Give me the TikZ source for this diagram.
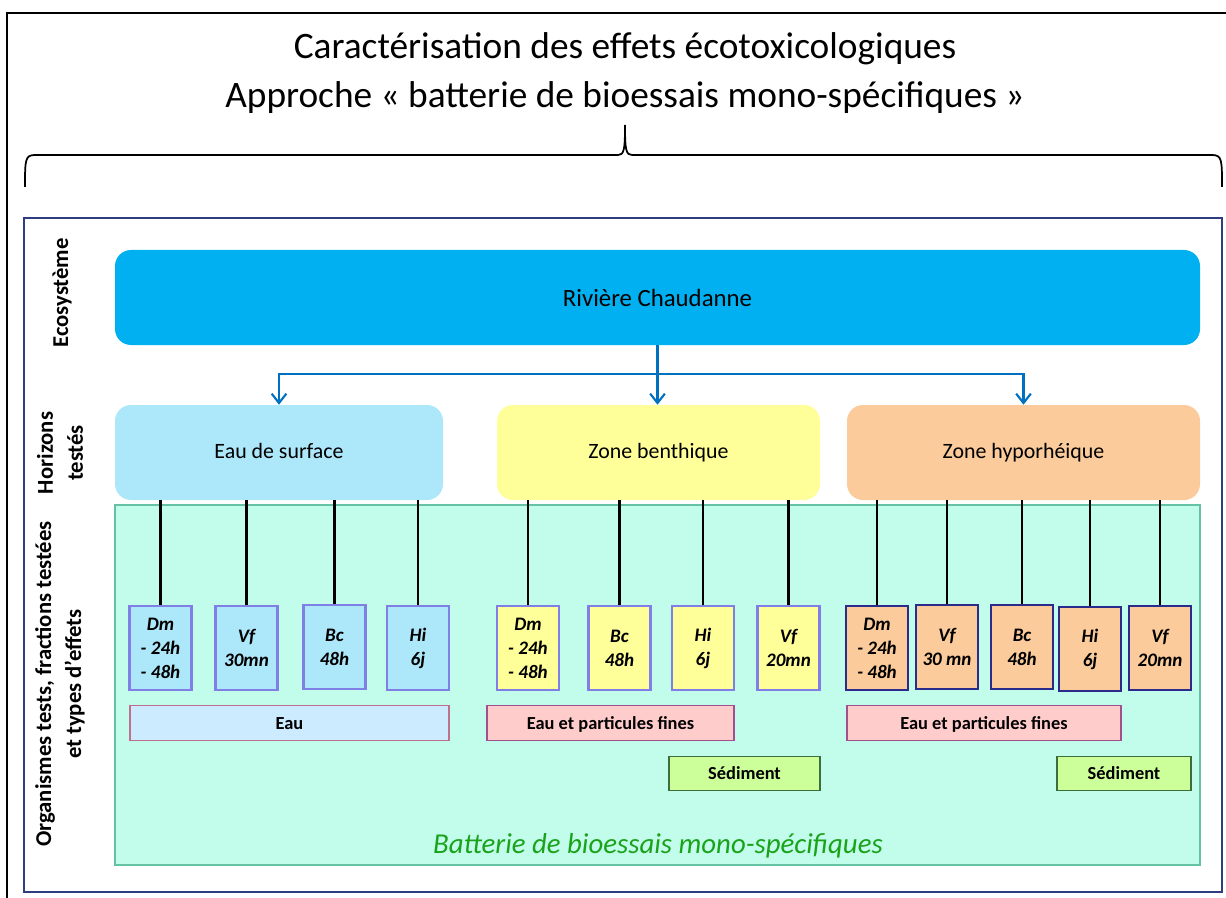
\documentclass[tikz,border=0pt]{standalone}
\usepackage{fontspec}
\setmainfont{Carlito}
\usetikzlibrary{arrows.meta}
\definecolor{ecoc}{HTML}{00B0F0}
\definecolor{bluec}{HTML}{ADE7FA}
\definecolor{yelc}{HTML}{FFFF99}
\definecolor{orac}{HTML}{FBCB9B}
\definecolor{greenbg}{HTML}{C2FDEB}
\definecolor{greenbd}{HTML}{66C2A5}
\definecolor{lilac}{HTML}{7F7FE6}
\definecolor{navy}{HTML}{2B2B8C}
\definecolor{framec}{HTML}{2E3C80}
\definecolor{arrc}{HTML}{0070C0}
\definecolor{eauc}{HTML}{CCEBFF}
\definecolor{eaubd}{HTML}{C0708F}
\definecolor{pinkc}{HTML}{FFCCCC}
\definecolor{pinkbd}{HTML}{A0508F}
\definecolor{sedc}{HTML}{CCFF99}
\definecolor{sedbd}{HTML}{3C6E3C}
\definecolor{battc}{HTML}{1AA31A}
\begin{document}
\begin{tikzpicture}[x=0.75pt,y=-0.75pt,
  horiz/.style={rounded corners=12pt,minimum height=71.25pt,font=\fontsize{16.4}{19}\selectfont,inner sep=0pt,text height=0.95em,text depth=0pt},
  small/.style={line width=1.7pt,minimum width=46.5pt,minimum height=63pt,inner sep=0pt,align=center,
     font=\fontsize{14.3}{18}\selectfont\bfseries\itshape},
  sblue/.style={small,draw=lilac,fill=bluec},
  syel/.style={small,draw=lilac,fill=yelc},
  sora/.style={small,draw=navy,fill=orac,line width=2pt},
  bar/.style={minimum height=26pt,inner sep=0pt,font=\fontsize{13.8}{16}\selectfont\bfseries,line width=0.8pt,text height=0.95em,text depth=0pt},
  conn/.style={line width=1.8pt,black},
  arr/.style={line width=1.9pt,arrc,-{Straight Barb[length=7pt,width=11pt,line width=1.6pt]}},
  side/.style={rotate=90,align=center,font=\fontsize{17}{22.5}\selectfont\bfseries}]
\useasboundingbox (0,0) rectangle (1226,898);
% outer open frame
\draw[line width=2pt] (7,898) -- (7,13) -- (1226,13);
% title
\node (t) at (625,73) [align=center,font=\fontsize{28}{37}\selectfont] {Caractérisation des effets écotoxicologiques\\Approche « batterie de bioessais mono-spécifiques »};
% brace
\draw[line width=1.3pt] (25,187) .. controls (25,160) and (25,155) .. (35,155) -- (618,155) .. controls (624,155) and (625,150) .. (625,125)
  .. controls (625,150) and (626,155) .. (632,155) -- (1212,155) .. controls (1222,155) and (1222,160) .. (1222,187);
% inner frame
\draw[framec,line width=1.5pt] (24,218) rectangle (1222,892);
% green area
\node (g) [draw=greenbd,fill=greenbg,line width=1pt,minimum width=813.75pt,minimum height=270pt,inner sep=0pt] at (657.5,685) {};
\node (batt) at (658,846) [font=\fontsize{21.6}{24}\selectfont\itshape,text=battc] {Batterie de bioessais mono-spécifiques};
% side labels
\node (l1) at (62,293) [side] {Ecosystème};
\node (l2) at (60,453) [side] {Horizons\\testés};
\node (l3) at (60,684) [side] {Organismes tests, fractions testées\\et types d’effets};
% ecosystem
\node (eco) [fill=ecoc,rounded corners=12pt,minimum width=813.75pt,minimum height=71.25pt,font=\fontsize{18.6}{21}\selectfont] at (657.5,297.5) {Rivière Chaudanne};
% horizons
\node (h1) [horiz,fill=bluec,minimum width=246pt] at (279,452.5) {Eau de surface};
\node (h2) [horiz,fill=yelc,minimum width=242.25pt] at (658.5,452.5) {Zone benthique};
\node (h3) [horiz,fill=orac,minimum width=264.75pt] at (1023.5,452.5) {Zone hyporhéique};
% arrows
\coordinate (j) at (657.5,374);
\draw[arr] (eco.south) -- (eco.south |- h2.north);
\draw[arr] (j) -| (h1.north);
\draw[arr] (j) -| (h3.north);
% small boxes
\node (b1) [sblue] at (160.5,648) {Dm\\- 24h\\- 48h};
\node (b2) [sblue] at (246.5,648) {Vf\\30mn};
\node (b3) [sblue] at (334.5,647) {Bc\\48h};
\node (b4) [sblue] at (418,648) {Hi\\6j};
\node (y1) [syel] at (528,648) {Dm\\- 24h\\- 48h};
\node (y2) [syel] at (619.5,648) {Bc\\48h};
\node (y3) [syel] at (703,648) {Hi\\6j};
\node (y4) [syel] at (788.5,648) {Vf\\20mn};
\node (o1) [sora] at (877,648) {Dm\\- 24h\\- 48h};
\node (o2) [sora] at (947,647) {Vf\\30 mn};
\node (o3) [sora] at (1022,647) {Bc\\48h};
\node (o4) [sora] at (1090,649) {Hi\\6j};
\node (o5) [sora] at (1160,648) {Vf\\20mn};
% connectors
\foreach \b/\h in {b1/h1,b2/h1,b3/h1,b4/h1,y1/h2,y2/h2,y3/h2,y4/h2,o1/h3,o2/h3,o3/h3,o4/h3,o5/h3}
  \draw[conn] (\b.north |- \h.south) -- (\b.north);
% fraction bars
\node (f1) [bar,draw=eaubd,fill=eauc,minimum width=239.25pt] at (289.5,723) {Eau};
\node (f2) [bar,draw=pinkbd,fill=pinkc,minimum width=185.25pt] at (610.5,723) {Eau et particules fines};
\node (f3) [bar,draw=sedbd,fill=sedc,minimum width=113.25pt] at (744.5,773.5) {Sédiment};
\node (f4) [bar,draw=pinkbd,fill=pinkc,minimum width=205.5pt] at (984,723) {Eau et particules fines};
\node (f5) [bar,draw=sedbd,fill=sedc,minimum width=100.5pt] at (1124,773.5) {Sédiment};
\end{tikzpicture}
\end{document}
